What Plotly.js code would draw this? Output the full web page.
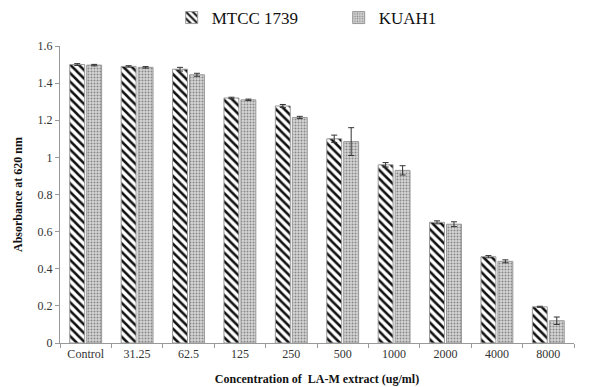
<!DOCTYPE html>
<html><head><meta charset="utf-8">
<script src="https://cdn.plot.ly/plotly-3.0.1.min.js"></script>
<style>html,body{margin:0;padding:0;background:#fff}#c{width:589px;height:387px}</style>
</head><body><div id="c"></div>
<script>
const categories = ["Control","31.25","62.5","125","250","500","1000","2000","4000","8000"];
const mtcc = [1.50,1.49,1.475,1.32,1.277,1.10,0.96,0.65,0.465,0.195];
const mtccErr = [0.005,0.004,0.01,0.004,0.008,0.02,0.012,0.008,0.006,0.003];
const kuah = [1.497,1.485,1.445,1.31,1.215,1.085,0.93,0.64,0.44,0.12];
const kuahErr = [0.004,0.004,0.008,0.004,0.006,0.075,0.025,0.013,0.008,0.02];
const serif = "Liberation Serif, Times New Roman, serif";
const traces = [
 {type:"bar", name:"MTCC 1739", x:categories, y:mtcc,
  error_y:{type:"data", array:mtccErr, visible:true, color:"#333", thickness:1, width:3},
  marker:{color:"#fff", line:{color:"#999", width:1},
   pattern:{shape:"\\", fgcolor:"#111", bgcolor:"#fff", size:6, solidity:0.42}}},
 {type:"bar", name:"KUAH1", x:categories, y:kuah,
  error_y:{type:"data", array:kuahErr, visible:true, color:"#333", thickness:1, width:3},
  marker:{color:"#ccc", line:{color:"#999", width:1},
   pattern:{shape:".", fgcolor:"#888", bgcolor:"#d6d6d6", size:3, solidity:0.35}}}
];
const layout = {
 width:589, height:387, margin:{l:60,r:15,t:46,b:44},
 paper_bgcolor:"#fff", plot_bgcolor:"#fff",
 font:{family:serif, color:"#333", size:12},
 barmode:"group", bargap:0.34, bargroupgap:0.12,
 showlegend:true,
 legend:{orientation:"h", x:0.575, xanchor:"center", xref:"container", y:1.0, yanchor:"top", yref:"container",
   font:{family:serif, size:17, color:"#111"}, itemwidth:30, entrywidth:122, tracegroupgap:0},
 xaxis:{type:"category", showline:true, linecolor:"#999", linewidth:1,
   ticks:"outside", ticklen:4, tickcolor:"#999", tickson:"boundaries",
   showgrid:false, tickfont:{family:serif,size:12,color:"#333"},
   title:{text:"<b>Concentration of  LA-M extract (ug/ml)</b>", font:{family:serif,size:12,color:"#111"}, standoff:14}},
 yaxis:{range:[0,1.6], dtick:0.2, showline:true, linecolor:"#999", linewidth:1,
   ticks:"outside", ticklen:4, tickcolor:"#999", showgrid:false, zeroline:false,
   tickfont:{family:serif,size:12,color:"#333"},
   title:{text:"<b>Absorbance at 620 nm</b>", font:{family:serif,size:12,color:"#111"}, standoff:12}}
};
Plotly.newPlot("c", traces, layout, {displayModeBar:false, staticPlot:true});
</script></body></html>
